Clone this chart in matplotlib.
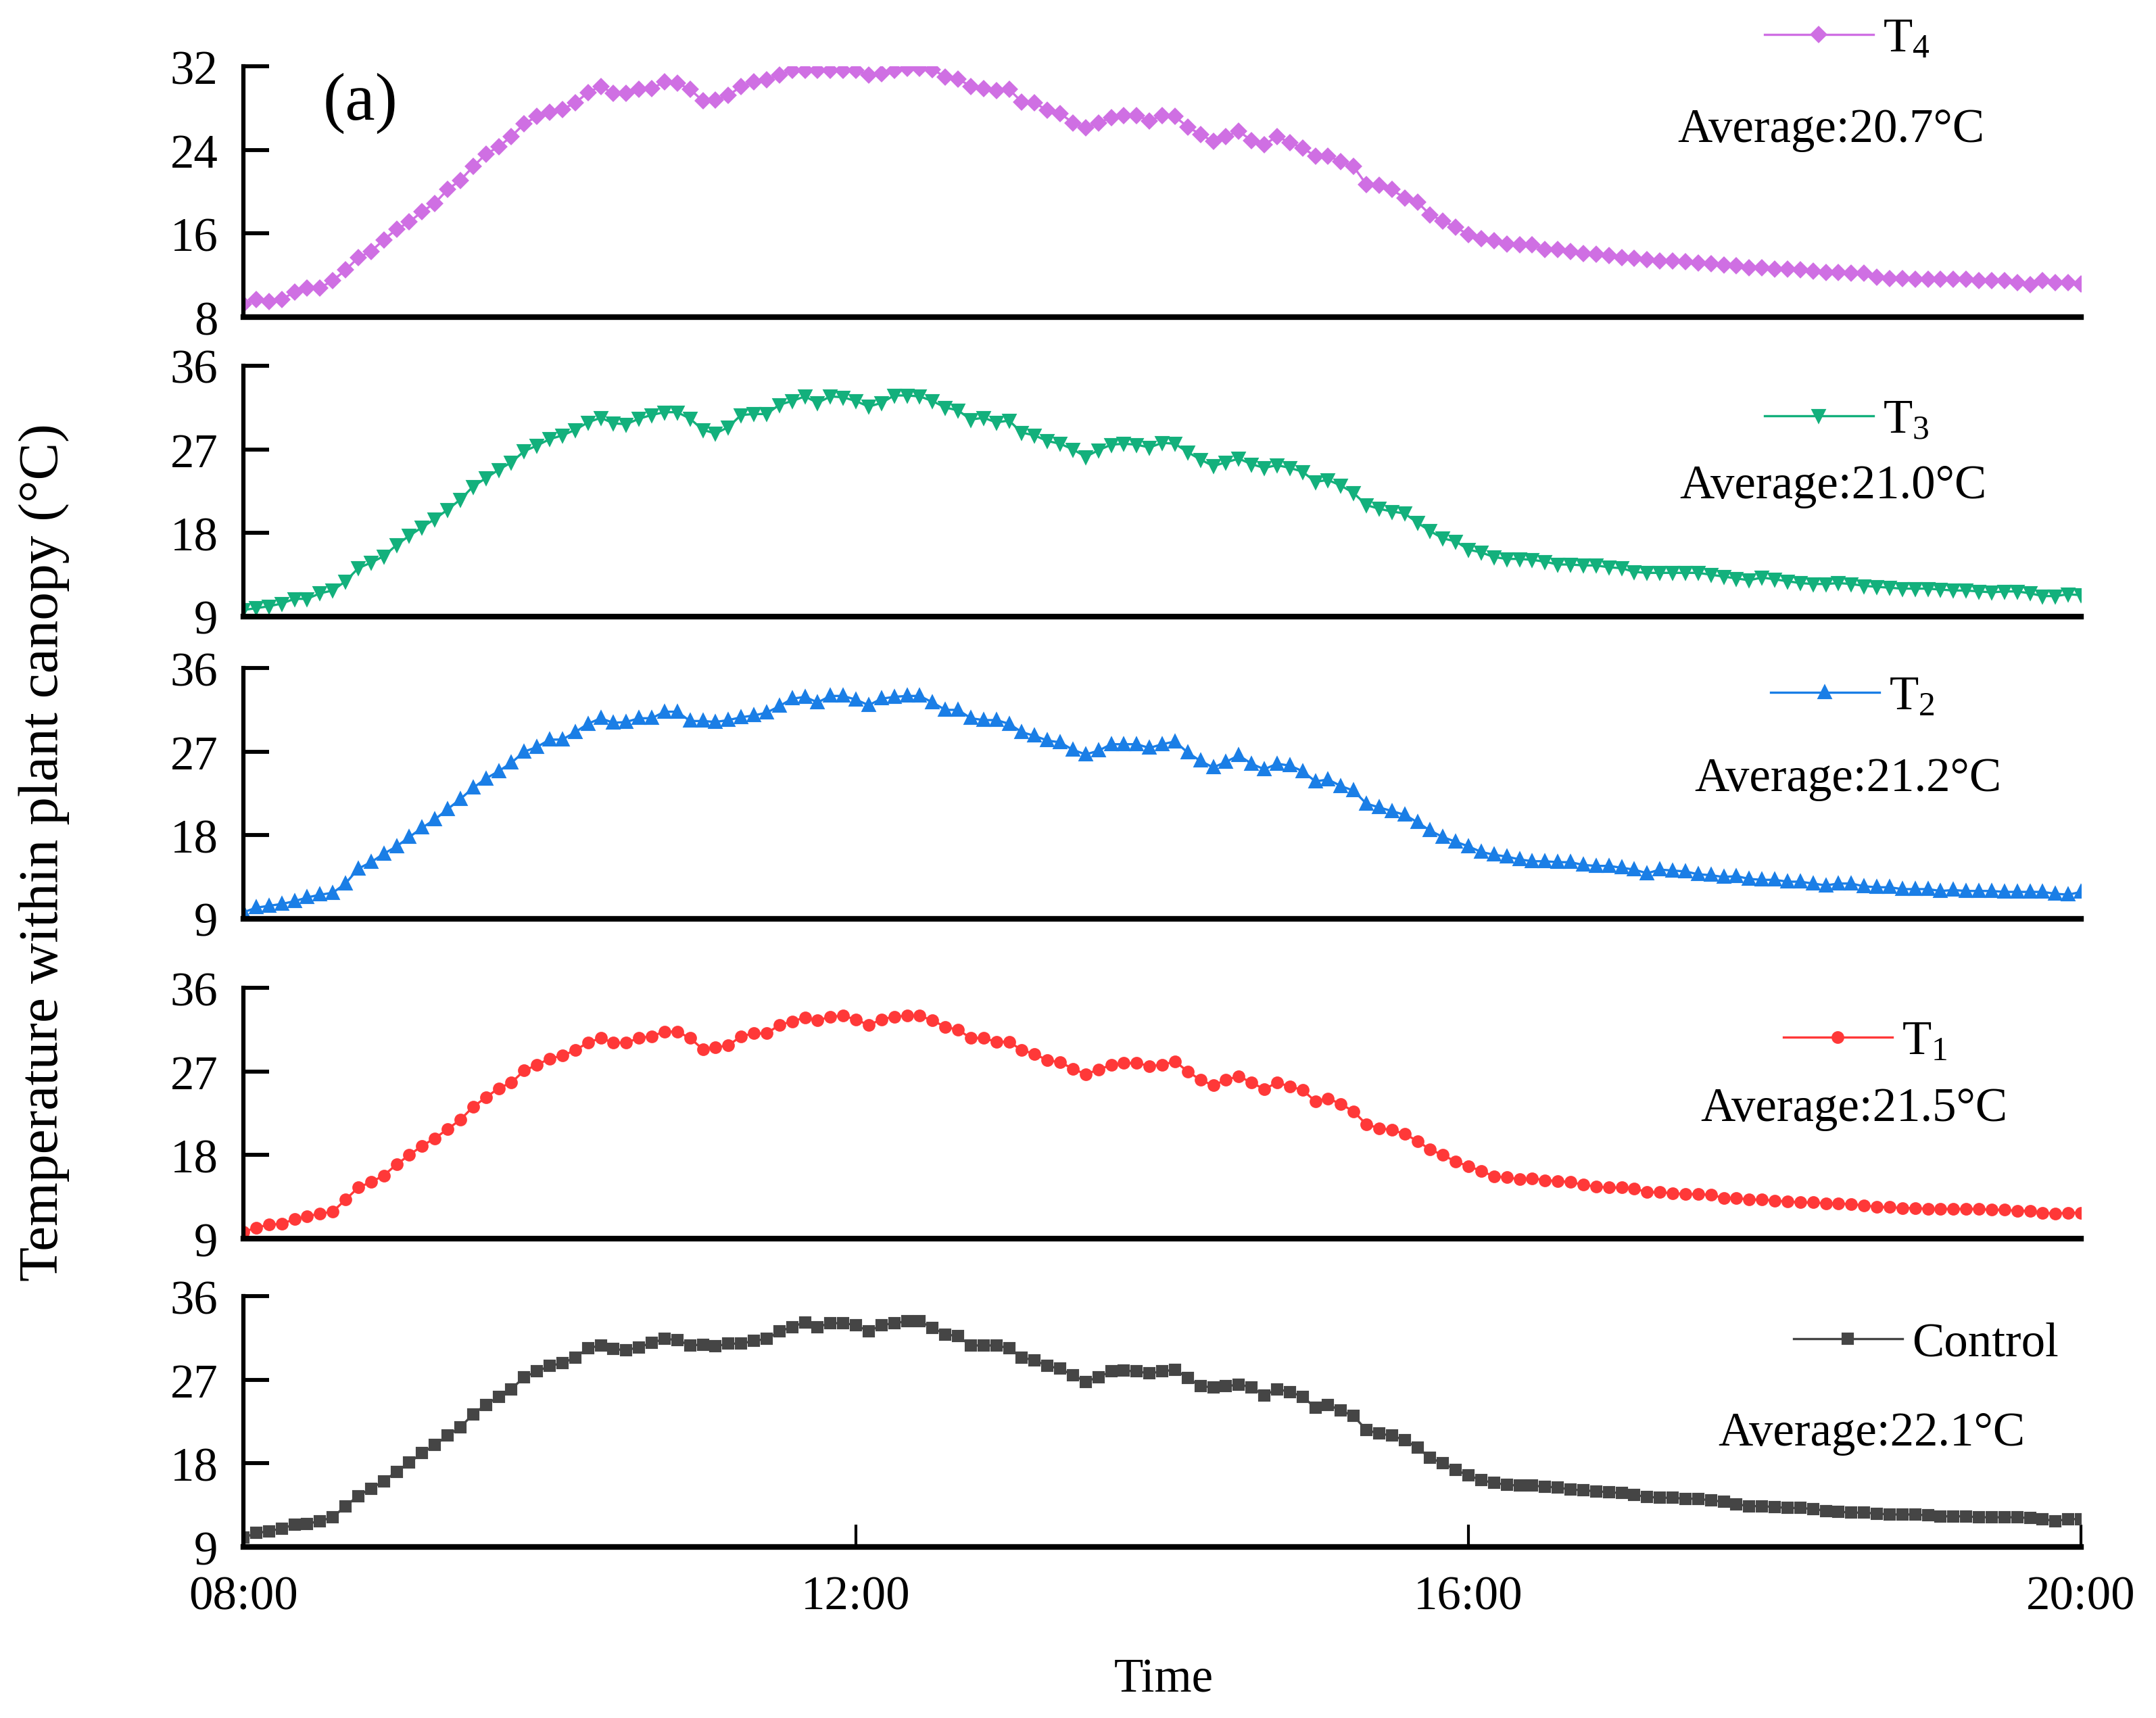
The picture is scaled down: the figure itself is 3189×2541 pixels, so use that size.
import numpy as np
import matplotlib.pyplot as plt

plt.rcParams['font.family'] = ['Liberation Serif', 'DejaVu Serif']

# 5-minute readings from 08:00 to 20:00
times = 8 + np.arange(145) * 5 / 60

t4 = [9.2,
      9.7, 9.5, 9.7, 10.4, 10.8, 10.8, 11.5, 12.5, 13.7, 14.3,
      15.4, 16.4, 17.1, 18.1, 18.9, 20.2, 21.1, 22.4, 23.6, 24.3,
      25.3, 26.5, 27.2, 27.6, 27.9, 28.5, 29.5, 30.1, 29.4, 29.4,
      29.8, 29.9, 30.5, 30.4, 29.8, 28.7, 28.8, 29.2, 30.1, 30.5,
      30.7, 31.2, 31.6, 31.6, 31.6, 31.6, 31.6, 31.6,
      31.2, 31.3, 31.6, 31.8, 31.8, 31.7, 31.0, 30.8, 30.1, 29.9,
      29.7, 29.8, 28.6, 28.5, 27.8, 27.5, 26.6, 26.1, 26.6, 27.1,
      27.3, 27.3, 26.8, 27.3, 27.2, 26.2, 25.5, 24.8, 25.3, 25.8,
      24.9, 24.5, 25.3, 24.7, 24.2, 23.4, 23.4, 22.9, 22.4, 20.7,
      20.6, 20.2, 19.4, 19.0, 17.8, 17.2, 16.6, 15.9, 15.5, 15.3,
      15.0, 14.9, 14.9, 14.5, 14.5, 14.3, 14.1,
      14.0, 13.9, 13.7, 13.6, 13.5, 13.4, 13.4, 13.3, 13.2, 13.1,
      13.0, 12.9, 12.7, 12.7, 12.6, 12.6, 12.5, 12.4, 12.3, 12.3,
      12.2, 12.2, 11.8, 11.7, 11.7, 11.6, 11.6, 11.6, 11.6, 11.6,
      11.5, 11.5, 11.5, 11.3, 11.1, 11.5, 11.3, 11.3, 11.2]

t3 = [9.7,
      9.9, 10.1, 10.4, 10.9, 10.9, 11.5, 11.8, 12.8, 14.2, 14.8,
      15.5, 16.7, 17.7, 18.6, 19.5, 20.5, 21.6, 23.0, 23.9, 24.8,
      25.6, 26.8, 27.4, 28.1, 28.5, 29.1, 29.9, 30.4, 29.8, 29.7,
      30.3, 30.7, 31.0, 31.0, 30.3, 29.1, 28.7, 29.4, 30.7, 30.8,
      30.8, 31.8, 32.2, 32.7, 32.0, 32.7, 32.6, 32.2, 31.6, 32.0,
      32.8, 32.8, 32.7, 32.2, 31.5, 31.2, 30.2, 30.4, 29.9, 30.1,
      28.8, 28.5, 27.9, 27.6, 27.0, 26.2, 26.9, 27.5, 27.6, 27.5,
      27.2, 27.7, 27.6, 26.7,
      25.9, 25.2, 25.6, 26.0, 25.4, 25.0, 25.3, 25.0, 24.6, 23.5,
      23.7, 23.1, 22.3, 21.0, 20.6, 20.3, 20.1, 19.1, 18.2, 17.4,
      17.1, 16.2, 15.9, 15.4, 15.2, 15.2, 15.1, 14.9, 14.6, 14.6,
      14.5, 14.5, 14.3, 14.2, 13.8, 13.7, 13.7, 13.7, 13.7, 13.7,
      13.5, 13.3, 13.1, 12.9, 13.2, 13.0, 12.8, 12.6, 12.5, 12.5,
      12.6, 12.5, 12.3, 12.2, 12.1, 12.0, 12.0, 12.0, 11.9, 11.8,
      11.8, 11.7, 11.6, 11.7, 11.7, 11.5, 11.2, 11.2, 11.4, 11.3]

t2 = [9.7, 10.2, 10.4, 10.6, 10.9, 11.3, 11.6, 11.8, 12.8, 14.4,
      15.1, 16.0, 16.8, 17.8, 18.8, 19.7, 20.8, 21.9, 23.1, 24.1,
      24.9, 25.8, 27.0, 27.5, 28.3, 28.3, 29.1, 30.0, 30.6, 30.1,
      30.2, 30.6, 30.6, 31.3, 31.3, 30.3, 30.3, 30.2, 30.4, 30.7,
      30.9, 31.2, 31.9, 32.7, 32.9, 32.3, 33.0, 33.0, 32.6, 32.0,
      32.7, 32.9, 33.0, 33.0, 32.3, 31.5, 31.5, 30.6, 30.4, 30.4,
      30.0, 29.1, 28.7, 28.2, 28.0, 27.2, 26.7, 27.1, 27.8, 27.8,
      27.8, 27.4, 27.8, 28.1, 26.9,
      26.0, 25.3, 25.9, 26.6, 25.7, 25.1, 25.7, 25.5, 24.9, 23.8,
      24.0, 23.3, 22.8, 21.4, 21.0, 20.6, 20.2, 19.4, 18.5, 17.8,
      17.3, 16.8, 16.2, 15.9, 15.7, 15.4, 15.2, 15.2, 15.1, 15.1,
      14.8, 14.7, 14.7, 14.5, 14.3, 13.9, 14.3, 14.2, 14.1, 13.8,
      13.7, 13.5, 13.6, 13.3, 13.2, 13.2, 13.0, 13.0, 12.8, 12.6,
      12.8, 12.8, 12.5, 12.4, 12.4, 12.2, 12.2, 12.2, 12.0, 12.1,
      12.0, 12.0, 12.0, 11.9, 11.9, 11.9, 11.9, 11.7, 11.6, 11.9]

t1 = [9.7, 10.2, 10.5, 10.6, 11.1, 11.4, 11.7, 11.9, 13.2, 14.5,
      15.1, 15.8, 17.0, 18.0, 19.0, 19.8, 20.8, 21.8, 23.2, 24.2,
      25.2, 25.8, 27.1, 27.7, 28.4, 28.7, 29.3, 30.1, 30.6, 30.1,
      30.1, 30.6, 30.8, 31.3, 31.3, 30.6, 29.4, 29.6, 29.8, 30.8,
      31.1, 31.1, 32.0, 32.4, 32.8, 32.5, 32.9, 33.0, 32.6, 32.0,
      32.6, 32.9, 33.0, 33.0, 32.5, 31.8, 31.5, 30.6, 30.6, 30.2,
      30.2, 29.3, 28.9, 28.2, 28.0, 27.3, 26.7, 27.2, 27.7, 27.9,
      27.9, 27.6, 27.7, 28.1, 27.0,
      26.1, 25.5, 26.1, 26.5, 25.8, 25.1, 25.8, 25.4, 25.0, 23.8,
      24.1, 23.5, 22.7, 21.3, 20.9, 20.7, 20.3, 19.5, 18.6, 18.0,
      17.3, 16.8, 16.3, 15.7, 15.6, 15.4, 15.5, 15.3, 15.2, 15.1,
      14.8, 14.6, 14.5, 14.5, 14.4, 14.0, 14.0, 13.9, 13.8, 13.8,
      13.7, 13.4, 13.4, 13.2, 13.2, 13.1, 13.0, 12.9, 12.9, 12.8,
      12.8, 12.7, 12.6, 12.4, 12.4, 12.3, 12.3, 12.2, 12.2, 12.2,
      12.2, 12.2, 12.1, 12.1, 12.0, 12.0, 11.8, 11.7, 11.8, 11.8]

control = [10.0, 10.5, 10.7, 11.0, 11.4, 11.5, 11.8, 12.2, 13.4, 14.5,
           15.3, 16.1, 17.1, 18.1, 19.1, 20.0, 21.0, 21.9, 23.3, 24.3,
           25.2, 26.0, 27.3, 27.9, 28.5, 28.8, 29.4, 30.4, 30.7, 30.3,
           30.2, 30.5, 31.0, 31.4, 31.3, 30.7, 30.8, 30.6, 30.9, 30.9,
           31.2, 31.4, 32.2, 32.7, 33.2, 32.7, 33.1, 33.1, 32.9, 32.2,
           32.9, 33.1, 33.3, 33.3, 32.6, 31.9, 31.7, 30.7, 30.7, 30.7,
           30.4, 29.4, 29.1, 28.5, 28.2, 27.5, 26.8, 27.3, 27.9, 28.0,
           27.9, 27.7, 27.9, 28.1, 27.2,
           26.3, 26.2, 26.3, 26.5, 26.2, 25.3, 26.0, 25.7, 25.2, 24.0,
           24.3, 23.7, 23.1, 21.6, 21.2, 21.0, 20.5, 19.7, 18.6, 18.0,
           17.3, 16.7, 16.2, 15.9, 15.7, 15.6, 15.6, 15.5, 15.4, 15.2,
           15.1, 15.0, 14.9, 14.8, 14.6, 14.4, 14.3, 14.3, 14.2, 14.2,
           14.0, 13.9, 13.6, 13.4, 13.4, 13.3, 13.2, 13.2, 13.1, 12.9,
           12.8, 12.7, 12.7, 12.6, 12.5, 12.5, 12.5, 12.4, 12.3, 12.3,
           12.3, 12.2, 12.2, 12.2, 12.2, 12.1, 12.0, 11.8, 12.0, 12.0]

labels = [r'$\mathregular{T_4}$', r'$\mathregular{T_3}$', r'$\mathregular{T_2}$',
          r'$\mathregular{T_1}$', 'Control']
averages = ['20.7', '21.0', '21.2', '21.5', '22.1']
xtick_pos = [8, 12, 16, 20]
xtick_labels = ['08:00', '12:00', '16:00', '20:00']

series = [t4, t3, t2, t1, control]
colors = ['#cf6fe3', '#13b07c', '#1a7ee6', '#ff3838', '#454545']
markers = ['D', 'v', '^', 'o', 's']
msizes = [3.4, 3.8, 3.8, 3.5, 3.2]
ylims = [(8, 32), (9, 36), (9, 36), (9, 36), (9, 36)]
yticks = [[8, 16, 24, 32], [9, 18, 27, 36], [9, 18, 27, 36],
          [9, 18, 27, 36], [9, 18, 27, 36]]

# layout, figure fractions
bottoms = [0.8151, 0.6409, 0.4650, 0.2789, 0.0995]
height = 0.1459
left, width = 0.1129, 0.8523
legend_xy = [(0.8184, 0.9768), (0.8184, 0.7549), (0.8212, 0.5940),
             (0.8272, 0.3934), (0.8319, 0.2179)]
avg_xy = [(0.7780, 0.9174), (0.7789, 0.7101), (0.7858, 0.5397),
          (0.7886, 0.3478), (0.7968, 0.1589)]

fig = plt.figure(figsize=(10.63, 8.4733), dpi=300)

for i in range(5):
    ax = fig.add_axes([left, bottoms[i], width, height])
    ax.plot(times, series[i], color=colors[i], marker=markers[i],
            markersize=msizes[i], linewidth=0.8, label=labels[i])
    ax.set_xlim(8, 20)
    ax.set_ylim(*ylims[i])
    ax.set_yticks(yticks[i])
    for s in ['top', 'right']:
        ax.spines[s].set_visible(False)
    ax.spines['left'].set_linewidth(1.5)
    ax.spines['bottom'].set_linewidth(2.0)
    ax.tick_params(axis='y', direction='in', length=9, width=1.4,
                   labelsize=17, pad=9)
    if i < 4:
        ax.tick_params(axis='x', bottom=False, labelbottom=False)
    else:
        ax.set_xticks(xtick_pos)
        ax.set_xticklabels(xtick_labels)
        ax.tick_params(axis='x', direction='in', length=8, width=1.0,
                       labelsize=17, pad=10)
    ax.legend(loc='center left', bbox_to_anchor=legend_xy[i],
              bbox_transform=fig.transFigure, frameon=False, fontsize=17,
              borderpad=0, borderaxespad=0, handlelength=2.27,
              handletextpad=0.2)
    fig.text(avg_xy[i][0], avg_xy[i][1], 'Average:' + averages[i] + '°C',
             fontsize=17, ha='left', va='baseline')

fig.text(0.167, 0.940, '(a)', fontsize=24, ha='center', va='center')
fig.text(0.5397, 0.0224, 'Time', fontsize=17, ha='center', va='center')
fig.text(0.0204, 0.504, 'Temperature within plant canopy (°C)', fontsize=20,
         rotation=90, ha='center', va='center')

fig.savefig('out.png', dpi=300)
